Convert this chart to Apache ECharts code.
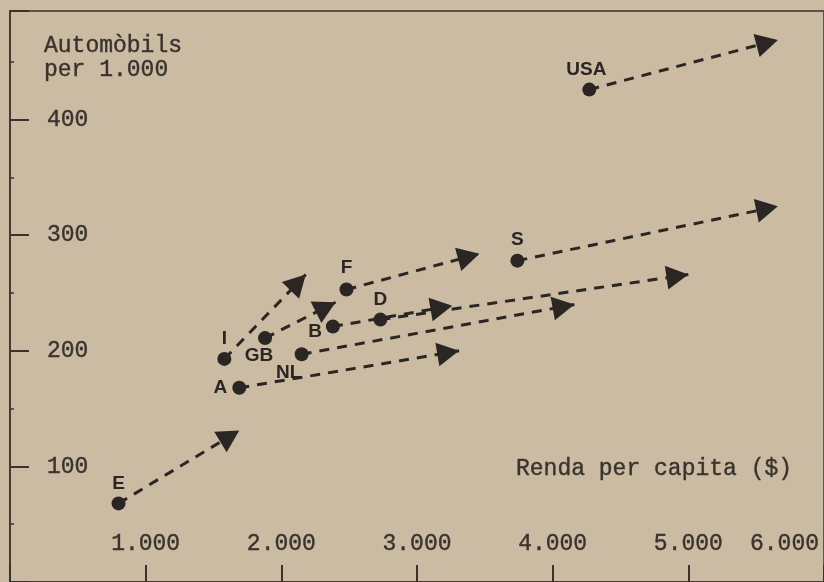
<!DOCTYPE html>
<html>
<head>
<meta charset="utf-8">
<script src="https://cdn.jsdelivr.net/npm/echarts@6/dist/echarts.min.js"></script>
<style>
html,body{margin:0;padding:0;background:#cbbba3;}
#chart{width:824px;height:582px;}
</style>
</head>
<body>
<div id="chart"></div>
<script>
// punt de partida de cada país
var countries = ['E','A','I','GB','NL','B','D','F','S','USA'];
var renda = [800,1690,1580,1880,2150,2380,2730,2480,3740,4270];
var autos = [68,168,193,211,197,221,227,253,278,426];
// on acaba la fletxa
var rendaFi = [1690,3310,2180,2400,4160,3260,5000,3460,5660,5660];
var autosFi = [131,200,266,242,240,239,266,284,325,469];
var xTicks = [1000,2000,3000,4000,5000,6000];
var yTicks = [100,200,300,400];

var ink = '#2a2624';
var typeInk = '#3a332d';
var mono = {fontFamily:'Liberation Mono', fontSize:23, color:typeInk, textBorderColor:typeInk, textBorderWidth:0.4};

// on va l'etiqueta de cada punt
var labelPos = {
    E:{position:'top', distance:3},
    A:{position:'left', distance:5},
    I:{position:'top', distance:4},
    GB:{position:'bottom', distance:1, offset:[-6,0]},
    NL:{position:'bottom', distance:2, offset:[-13,0]},
    B:{position:'left', distance:4, offset:[0,5]},
    D:{position:'top', distance:3},
    F:{position:'top', distance:5},
    S:{position:'top', distance:4},
    USA:{position:'top', distance:3, offset:[-3,0]}
};

var points = countries.map(function(c,i){
    return {name:c, value:[renda[i],autos[i]], label:labelPos[c]};
});
var arrows = countries.map(function(c,i){
    return [
        {coord:[renda[i],autos[i]], symbol:'none'},
        {coord:[rendaFi[i],autosFi[i]], symbol:'triangle', symbolSize:[24,22], symbolOffset:[0,11]}
    ];
});

var myChart = echarts.init(document.getElementById('chart'));
var option = {
    animation:false,
    backgroundColor:'#cbbba3',
    title:[
        {text:'Automòbils\nper 1.000', left:44, top:34, padding:0,
         textStyle:Object.assign({fontWeight:'normal', lineHeight:24}, mono)},
        {text:'Renda per capita ($)', left:516, top:457, padding:0,
         textStyle:Object.assign({fontWeight:'normal'}, mono)}
    ],
    grid:{left:10, right:-2, top:11, bottom:-2, show:true, borderColor:typeInk, borderWidth:1.5},
    xAxis:{
        type:'value', min:0, max:6000, interval:1000,
        splitLine:{show:false},
        axisLine:{show:true, lineStyle:{color:typeInk, width:1.5}},
        axisTick:{show:true, inside:true, length:17, lineStyle:{color:typeInk, width:2}},
        axisLabel:Object.assign({
            inside:true, margin:27, alignMaxLabel:'right',
            formatter:function(v){
                if(xTicks.indexOf(v)<0) return '';
                var s = (v/1000)+'.000';
                return v===6000 ? '{e|'+s+'}' : s;
            },
            rich:{e:Object.assign({padding:[0,5,0,0]}, mono)}
        }, mono)
    },
    yAxis:{
        type:'value', min:0, max:494, interval:100,
        splitLine:{show:false},
        axisLine:{show:true, lineStyle:{color:typeInk, width:1.5}},
        axisTick:{show:true, inside:true, length:19, lineStyle:{color:typeInk, width:2}},
        minorTick:{show:true, splitNumber:2, length:4, lineStyle:{color:typeInk, width:1.5}},
        axisLabel:Object.assign({
            inside:true, margin:37, showMaxLabel:false,
            formatter:function(v){ return yTicks.indexOf(v)<0 ? '' : String(v); }
        }, mono)
    },
    series:[{
        type:'scatter',
        symbolSize:14,
        itemStyle:{color:ink, opacity:1},
        label:{show:true, formatter:'{b}', fontFamily:'Liberation Sans', fontWeight:'bold', fontSize:19, color:ink},
        data:points,
        markLine:{
            silent:true,
            symbol:['none','triangle'],
            symbolSize:20,
            label:{show:false},
            lineStyle:{type:[10,8], width:3, color:ink, opacity:1},
            itemStyle:{color:ink},
            emphasis:{disabled:true},
            data:arrows
        }
    }]
};
myChart.setOption(option);
</script>
</body>
</html>
